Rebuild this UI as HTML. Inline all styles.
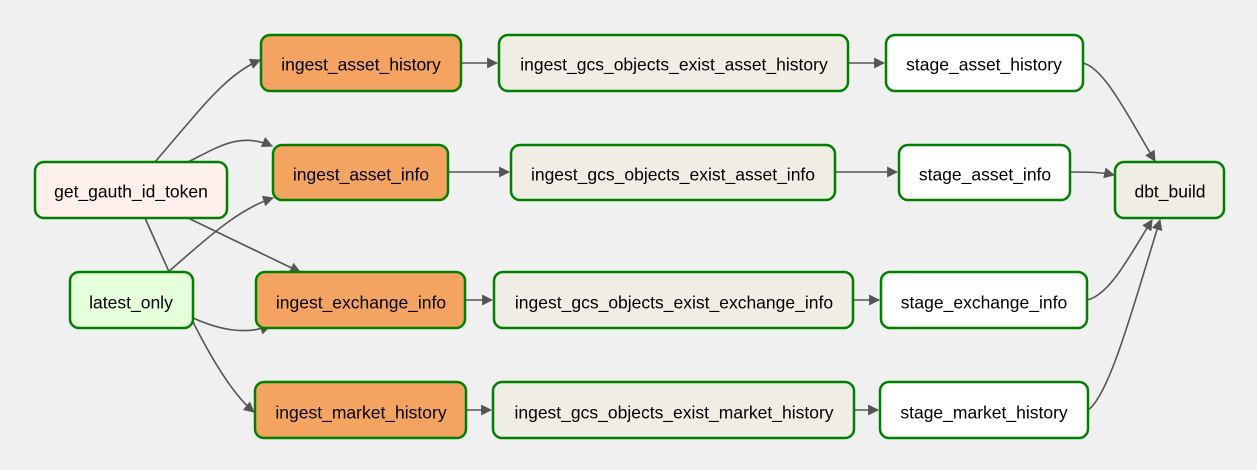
<!DOCTYPE html>
<html><head><style>
body{margin:0;background:#f0f0f0;}
svg{display:block;font-family:"Liberation Sans",Arial,sans-serif;}
.n{stroke:#008000;stroke-width:2.5;}
.e{fill:none;stroke:#555;stroke-width:1.6;}
text{font-size:17.5px;fill:#000;text-anchor:middle;dominant-baseline:central;}
</style></head><body>
<svg width="1257" height="470" viewBox="0 0 1257 470">
<defs>
<marker id="b" viewBox="0 0 10 10" refX="9" refY="5" markerWidth="11" markerHeight="11" orient="auto" markerUnits="userSpaceOnUse"><path d="M0,0L10,5L0,10z" fill="#555"/></marker></defs>
<g marker-end="url(#b)">
<path class="e" d="M155,162 C200,110 225,75 260,60"/>
<path class="e" d="M188,162 C220,146 240,132 272,146"/>
<path class="e" d="M145,218 C175,285 215,380 254,412"/>
<path class="e" d="M188,218 L300,272"/>
<path class="e" d="M168,272 C200,245 235,210 273,198"/>
<path class="e" d="M193,318 C220,330 245,335 270,326"/>
<path class="e" d="M461,63 L497,63"/>
<path class="e" d="M448,172 L509,172"/>
<path class="e" d="M465,300 L492,300"/>
<path class="e" d="M466,410 L491,410"/>
<path class="e" d="M848,63 L884,63"/>
<path class="e" d="M835,172 L897,172"/>
<path class="e" d="M853,300 L879,300"/>
<path class="e" d="M854,410 L878,410"/>
<path class="e" d="M1083,63 C1105,68 1130,120 1155,161"/>
<path class="e" d="M1070,172 C1090,172 1100,172 1114,175"/>
<path class="e" d="M1087,300 C1110,295 1130,255 1152,220"/>
<path class="e" d="M1088,410 C1110,395 1135,300 1160,220"/>
</g>
<g transform="translate(0,1.5)">
<rect class="n" x="35" y="160.5" width="192" height="56" rx="9" fill="#fff0eb"/><text x="131" y="190">get_gauth_id_token</text>
<rect class="n" x="70" y="270.5" width="123" height="56" rx="9" fill="#e6ffdb"/><text x="131" y="301">latest_only</text>
<rect class="n" x="261" y="33.5" width="200" height="56" rx="9" fill="#f4a460"/><text x="361" y="63">ingest_asset_history</text>
<rect class="n" x="273" y="143.5" width="175" height="55" rx="9" fill="#f4a460"/><text x="361" y="173">ingest_asset_info</text>
<rect class="n" x="256" y="270.5" width="209" height="56" rx="9" fill="#f4a460"/><text x="361" y="301">ingest_exchange_info</text>
<rect class="n" x="255" y="380.5" width="211" height="56" rx="9" fill="#f4a460"/><text x="361" y="411">ingest_market_history</text>
<rect class="n" x="499" y="33.5" width="349" height="56" rx="9" fill="#f0ede4"/><text x="674" y="63">ingest_gcs_objects_exist_asset_history</text>
<rect class="n" x="511" y="143.5" width="324" height="55" rx="9" fill="#f0ede4"/><text x="673" y="173">ingest_gcs_objects_exist_asset_info</text>
<rect class="n" x="494" y="270.5" width="359" height="56" rx="9" fill="#f0ede4"/><text x="674" y="301">ingest_gcs_objects_exist_exchange_info</text>
<rect class="n" x="493" y="380.5" width="361" height="56" rx="9" fill="#f0ede4"/><text x="674" y="411">ingest_gcs_objects_exist_market_history</text>
<rect class="n" x="886" y="33.5" width="197" height="56" rx="9" fill="#fff"/><text x="984" y="63">stage_asset_history</text>
<rect class="n" x="899" y="143.5" width="171" height="55" rx="9" fill="#fff"/><text x="985" y="173">stage_asset_info</text>
<rect class="n" x="881" y="270.5" width="206" height="56" rx="9" fill="#fff"/><text x="984" y="301">stage_exchange_info</text>
<rect class="n" x="880" y="380.5" width="208" height="56" rx="9" fill="#fff"/><text x="984" y="411">stage_market_history</text>
<rect class="n" x="1115" y="160.5" width="109" height="56" rx="9" fill="#f0ede4"/><text x="1170" y="190">dbt_build</text>
</g>
</svg>
</body></html>
